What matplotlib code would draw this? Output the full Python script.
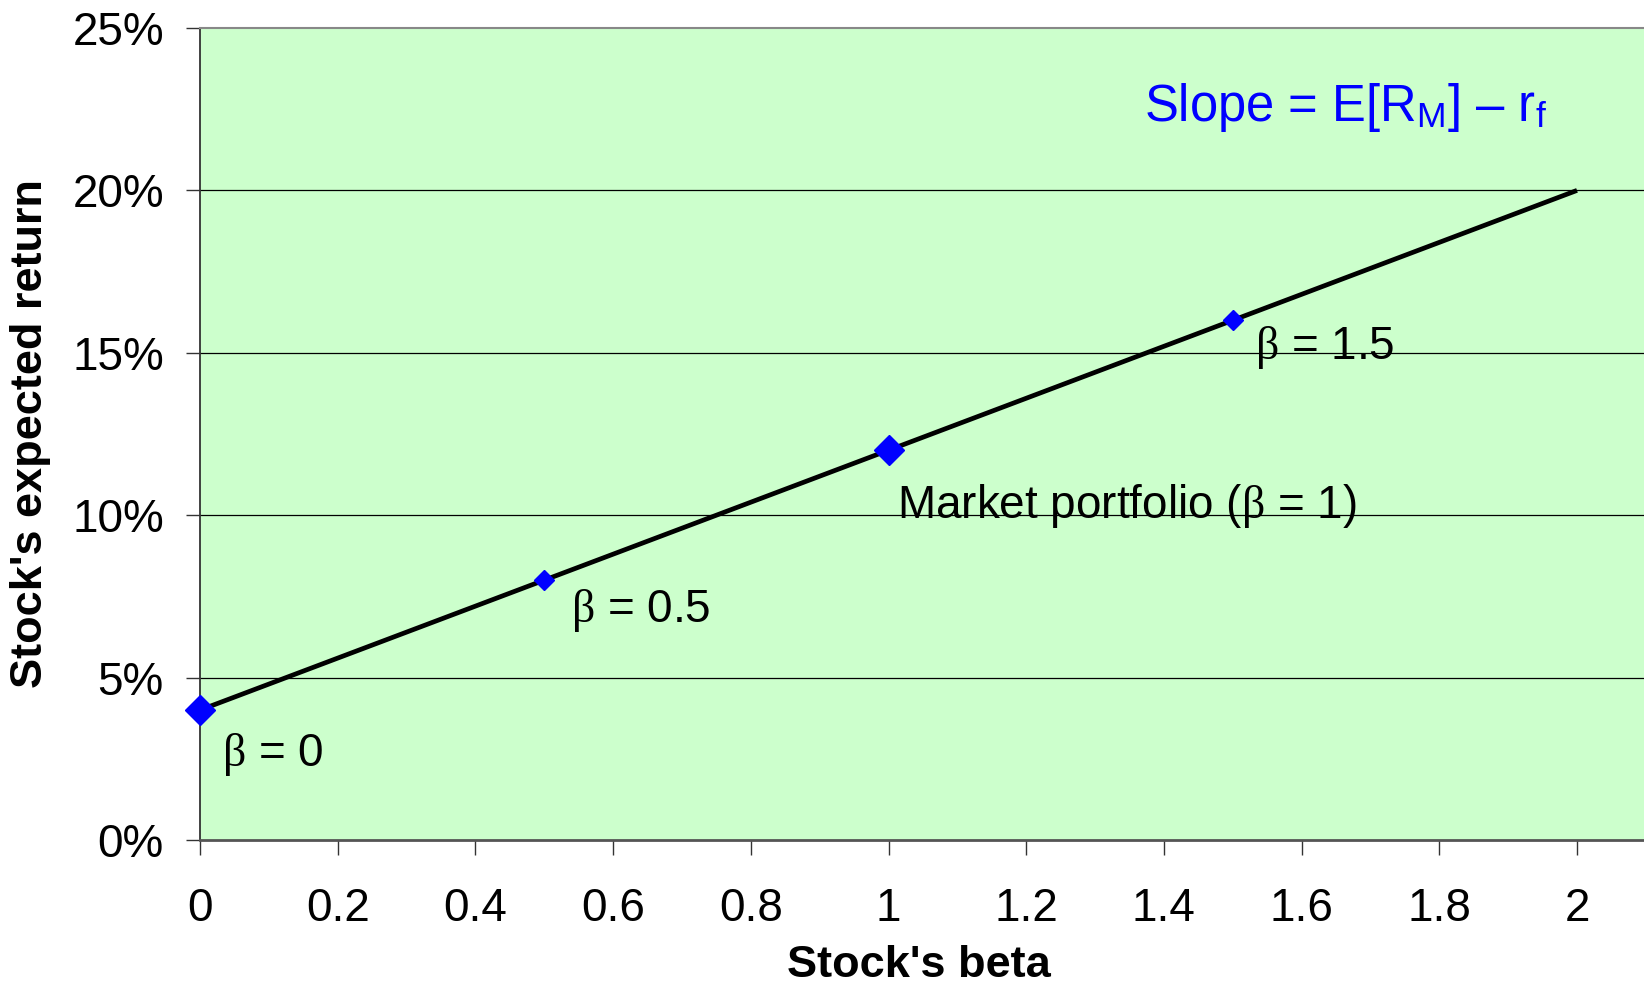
import matplotlib
matplotlib.use("Agg")
import matplotlib.pyplot as plt
import numpy as np

plt.rcParams['font.family'] = ['Liberation Sans', 'DejaVu Sans']
plt.rcParams['mathtext.fontset'] = 'custom'
plt.rcParams['mathtext.rm'] = 'Liberation Sans'
plt.rcParams['mathtext.it'] = 'Liberation Serif'
plt.rcParams['mathtext.bf'] = 'Liberation Sans:bold'

# data
betas = [0, 0.5, 1, 1.5]
returns = [4, 8, 12, 16]          # %
sml_beta = [0, 2]
sml_return = [4, 20]              # %
point_labels = [r'$\beta$ = 0', r'$\beta$ = 0.5',
                r'Market portfolio ($\beta$ = 1)', r'$\beta$ = 1.5']
x_ticks = [0, 0.2, 0.4, 0.6, 0.8, 1, 1.2, 1.4, 1.6, 1.8, 2]
x_ticklabels = ['0', '0.2', '0.4', '0.6', '0.8', '1', '1.2', '1.4', '1.6', '1.8', '2']
y_ticks = [0, 5, 10, 15, 20, 25]
y_ticklabels = ['0%', '5%', '10%', '15%', '20%', '25%']
slope_text = r'Slope = E[R$_\mathregular{M}$] – r$_\mathregular{f}$'

fig = plt.figure(figsize=(16.44, 9.89), dpi=100)
ax = fig.add_axes([200/1644, 149/989, 1444/1644, 812/989])
ax.set_facecolor('#CCFFCC')

ax.set_xlim(0, 1444/688.5)
ax.set_ylim(0, 25)

# gridlines
for y in y_ticks[1:-1]:
    ax.axhline(y, color='black', lw=0.9, zorder=1)

ax.plot(sml_beta, sml_return, color='black', lw=3.4, zorder=2, solid_capstyle='butt')

sizes = [15.5, 10, 15.5, 10]
for b, r, s in zip(betas, returns, sizes):
    ax.plot([b], [r], marker='D', ms=s, color='#0000FF', mec='#0000FF',
            zorder=3, clip_on=False)

offsets = [(16, -40), (19, -30), (6, -49), (16, -28)]
for b, r, lab, off in zip(betas, returns, point_labels, offsets):
    ax.annotate(lab, (b, r), xytext=off, textcoords='offset points',
                fontsize=33, ha='left', va='baseline', color='black')

ax.text(0.654, 0.885, slope_text, transform=ax.transAxes, fontsize=36.5,
        color='#0000FF', ha='left', va='baseline')

ax.set_xticks(x_ticks)
ax.set_xticklabels(x_ticklabels)
ax.set_yticks(y_ticks)
ax.set_yticklabels(y_ticklabels)
ax.tick_params(axis='x', direction='out', length=11, width=1, color='#333333',
               labelsize=33, pad=23)
ax.tick_params(axis='y', direction='out', length=10, width=1, color='#333333',
               labelsize=33, pad=16)

ax.spines['right'].set_visible(False)
ax.spines['top'].set_color('#888888')
ax.spines['top'].set_linewidth(1.5)
ax.spines['left'].set_color('#333333')
ax.spines['left'].set_linewidth(1.3)
ax.spines['bottom'].set_color('#555555')
ax.spines['bottom'].set_linewidth(2)

ax.set_xlabel("Stock's beta", fontsize=32.5, fontweight='bold')
ax.set_ylabel("Stock's expected return", fontsize=32.5, fontweight='bold')
ax.xaxis.set_label_coords(0.498, -0.129)
ax.yaxis.set_label_coords(-0.103, 0.5)

fig.savefig('out.png', dpi=100, facecolor='white')
